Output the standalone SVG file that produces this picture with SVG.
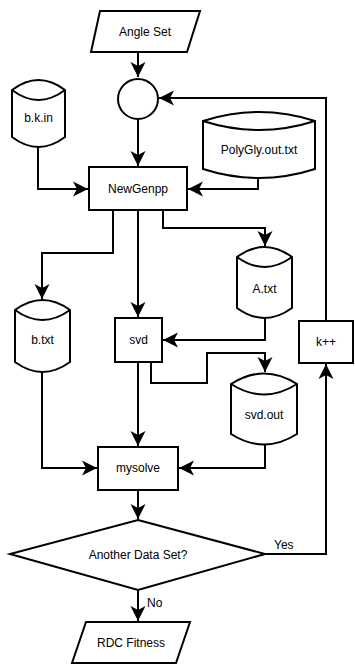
<svg xmlns="http://www.w3.org/2000/svg" width="355" height="664" viewBox="0 0 355 664">
  <style>
    .shape { fill: #ffffff; stroke: #000000; stroke-width: 2; }
    .edge { fill: none; stroke: #000000; stroke-width: 2; marker-end: url(#arrow); }
    .plain { fill: none; stroke: #000000; stroke-width: 2; }
    text { font-family: "Liberation Sans", Arial, sans-serif; font-size: 12px; fill: #000000; text-anchor: middle; dominant-baseline: central; }
    .lbl { text-anchor: start; }
  </style>
  <defs>
    <marker id="arrow" markerUnits="userSpaceOnUse" markerWidth="16" markerHeight="16" viewBox="-16 -8 16 16" refX="0" refY="0" orient="auto">
      <path d="M0,0 L-15,-7.5 L-11,0 L-15,7.5 Z" fill="#000000"/>
    </marker>
  </defs>
  <rect width="355" height="664" fill="#ffffff"/>

  <!-- connectors -->
  <g id="edges">
    <path class="edge" d="M138,52 L138,77"/>
    <path class="edge" d="M138,120 L138,166"/>
    <path class="edge" d="M38,147 L38,189 L88,189"/>
    <path class="edge" d="M258,179 L258,189 L188,189"/>
    <path class="edge" d="M326,321 L326,98 L159,98"/>
    <path class="edge" d="M113,210 L113,253 L42,253 L42,299"/>
    <path class="edge" d="M138,210 L138,317"/>
    <path class="edge" d="M163,210 L163,228 L265,228 L265,246"/>
    <path class="edge" d="M265,318 L265,340 L163,340"/>
    <path class="edge" d="M151,362 L151,383 L207,383 L207,353 L265,353 L265,372"/>
    <path class="edge" d="M138,362 L138,446"/>
    <path class="edge" d="M42,372 L42,468 L97,468"/>
    <path class="edge" d="M265,445 L265,468 L179,468"/>
    <path class="edge" d="M138,490 L138,519"/>
    <path class="edge" d="M265,554 L326,554 L326,364"/>
    <path class="edge" d="M138,590 L138,621"/>
    <text class="lbl" x="274" y="545">Yes</text>
    <text class="lbl" x="147" y="603">No</text>
  </g>

  <g id="angle-set">
    <path class="shape" d="M100,11 L200,11 L187,52 L91,52 Z"/>
    <text x="145" y="32">Angle Set</text>
  </g>

  <g id="junction">
    <circle class="shape" cx="138" cy="99" r="20"/>
  </g>

  <g id="bk-in">
    <path class="shape" d="M12,90 Q38.5,70 65,90 L65,137 Q38.5,157 12,137 Z"/>
    <path class="plain" d="M12,90 Q38.5,110 65,90"/>
    <text x="38.5" y="118">b.k.in</text>
  </g>

  <g id="polygly-out">
    <path class="shape" d="M203,121 Q259,103 315,121 L315,169 Q259,187 203,169 Z"/>
    <path class="plain" d="M203,121 Q259,139 315,121"/>
    <text x="259" y="150">PolyGly.out.txt</text>
  </g>

  <g id="newgenpp">
    <rect class="shape" x="89" y="167" width="98" height="43"/>
    <text x="138" y="189">NewGenpp</text>
  </g>

  <g id="a-txt">
    <path class="shape" d="M237,257 Q264.5,237 292,257 L292,308 Q264.5,328 237,308 Z"/>
    <path class="plain" d="M237,257 Q264.5,277 292,257"/>
    <text x="264.5" y="289">A.txt</text>
  </g>

  <g id="b-txt">
    <path class="shape" d="M15,310 Q42.5,290 70,310 L70,362 Q42.5,382 15,362 Z"/>
    <path class="plain" d="M15,310 Q42.5,330 70,310"/>
    <text x="42.5" y="340">b.txt</text>
  </g>

  <g id="svd">
    <rect class="shape" x="115" y="318" width="47" height="44"/>
    <text x="138.5" y="340">svd</text>
  </g>

  <g id="k-inc">
    <rect class="shape" x="299" y="321" width="54" height="42"/>
    <text x="326" y="342">k++</text>
  </g>

  <g id="svd-out">
    <path class="shape" d="M231,384 Q264,363 297,384 L297,434 Q264,455 231,434 Z"/>
    <path class="plain" d="M231,384 Q264,405 297,384"/>
    <text x="264" y="415">svd.out</text>
  </g>

  <g id="mysolve">
    <rect class="shape" x="98" y="447" width="80" height="43"/>
    <text x="138" y="468">mysolve</text>
  </g>

  <g id="another-data-set">
    <path class="shape" d="M138,520 L265,554 L138,590 L10,554 Z"/>
    <text x="138" y="555">Another Data Set?</text>
  </g>

  <g id="rdc-fitness">
    <path class="shape" d="M86,622 L190,622 L176,663 L72,663 Z"/>
    <text x="131" y="643">RDC Fitness</text>
  </g>
</svg>
